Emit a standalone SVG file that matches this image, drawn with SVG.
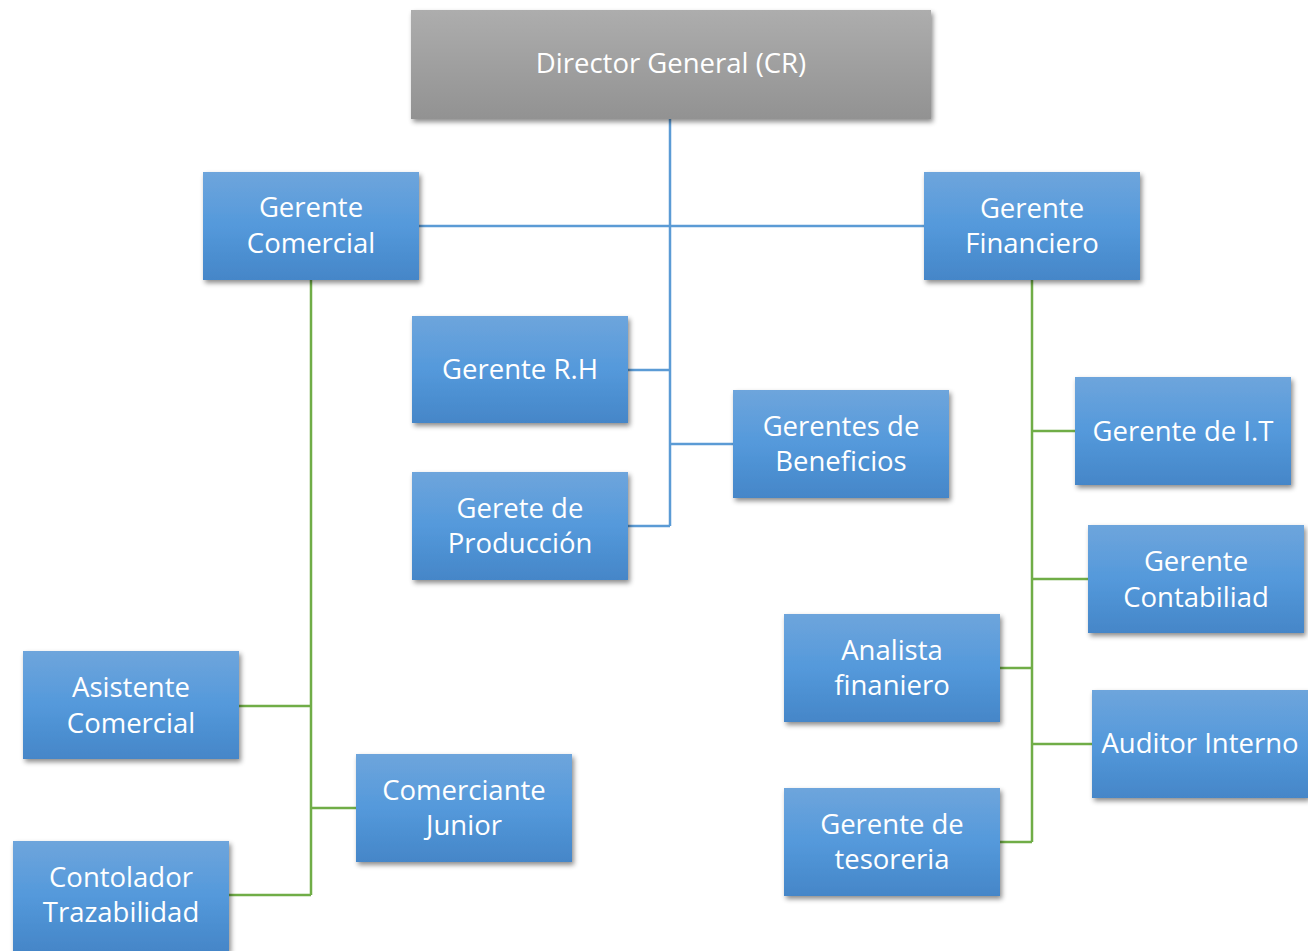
<svg xmlns="http://www.w3.org/2000/svg" width="1308" height="951" viewBox="0 0 1308 951">
<defs>
<linearGradient id="gb" x1="0" y1="0" x2="0" y2="1">
<stop offset="0" stop-color="#6ea5dc"/>
<stop offset="0.5" stop-color="#5499db"/>
<stop offset="1" stop-color="#4586c8"/>
</linearGradient>
<linearGradient id="gg" x1="0" y1="0" x2="0" y2="1">
<stop offset="0" stop-color="#adadad"/>
<stop offset="1" stop-color="#929292"/>
</linearGradient>
<filter id="sh" x="-10%" y="-10%" width="125%" height="130%">
<feDropShadow dx="2" dy="3" stdDeviation="2.5" flood-color="#000" flood-opacity="0.45"/>
</filter>
</defs>
<style>
.b{fill:url(#gb);filter:url(#sh)}
.g{fill:url(#gg);filter:url(#sh)}
text{font-family:"Open Sans","Noto Sans",sans-serif;font-size:27.5px;fill:#fff;text-anchor:middle}
.lb{stroke:#5b9bd5;stroke-width:2.5;fill:none}
.lg{stroke:#70ad47;stroke-width:2.5;fill:none}
</style>
<rect width="1308" height="951" fill="#fff"/>
<g id="connectors">
<path class="lb" d="M670 119V526M419 226H924M628 370H670M670 444H733M628 526H670"/>
<path class="lg" d="M311 280V895M239 706H311M311 808H356M229 895H311"/>
<path class="lg" d="M1032 280V842M1032 431H1075M1032 579H1088M1000 668H1032M1032 744H1092M1000 842H1032"/>
</g>
<g id="director"><rect class="g" x="411" y="10" width="520" height="109"/><text x="671" y="73">Director General (CR)</text></g>
<g id="comercial"><rect class="b" x="203" y="172" width="216" height="108"/><text x="311" y="217">Gerente</text><text x="311" y="253">Comercial</text></g>
<g id="financiero"><rect class="b" x="924" y="172" width="216" height="108"/><text x="1032" y="218">Gerente</text><text x="1032" y="253">Financiero</text></g>
<g id="rh"><rect class="b" x="412" y="316" width="216" height="107"/><text x="520" y="379">Gerente R.H</text></g>
<g id="beneficios"><rect class="b" x="733" y="390" width="216" height="108"/><text x="841" y="436">Gerentes de</text><text x="841" y="471">Beneficios</text></g>
<g id="produccion"><rect class="b" x="412" y="472" width="216" height="108"/><text x="520" y="518">Gerete de</text><text x="520" y="553">Producción</text></g>
<g id="it"><rect class="b" x="1075" y="377" width="216" height="108"/><text x="1183" y="441">Gerente de I.T</text></g>
<g id="contabiliad"><rect class="b" x="1088" y="525" width="216" height="108"/><text x="1196" y="571">Gerente</text><text x="1196" y="607">Contabiliad</text></g>
<g id="analista"><rect class="b" x="784" y="614" width="216" height="108"/><text x="892" y="660">Analista</text><text x="892" y="695">finaniero</text></g>
<g id="auditor"><rect class="b" x="1092" y="690" width="216" height="108"/><text x="1200" y="753">Auditor Interno</text></g>
<g id="tesoreria"><rect class="b" x="784" y="788" width="216" height="108"/><text x="892" y="834">Gerente de</text><text x="892" y="869">tesoreria</text></g>
<g id="asistente"><rect class="b" x="23" y="651" width="216" height="108"/><text x="131" y="697">Asistente</text><text x="131" y="733">Comercial</text></g>
<g id="junior"><rect class="b" x="356" y="754" width="216" height="108"/><text x="464" y="800">Comerciante</text><text x="464" y="835">Junior</text></g>
<g id="contolador"><rect class="b" x="13" y="841" width="216" height="110"/><text x="121" y="887">Contolador</text><text x="121" y="922">Trazabilidad</text></g>
</svg>
